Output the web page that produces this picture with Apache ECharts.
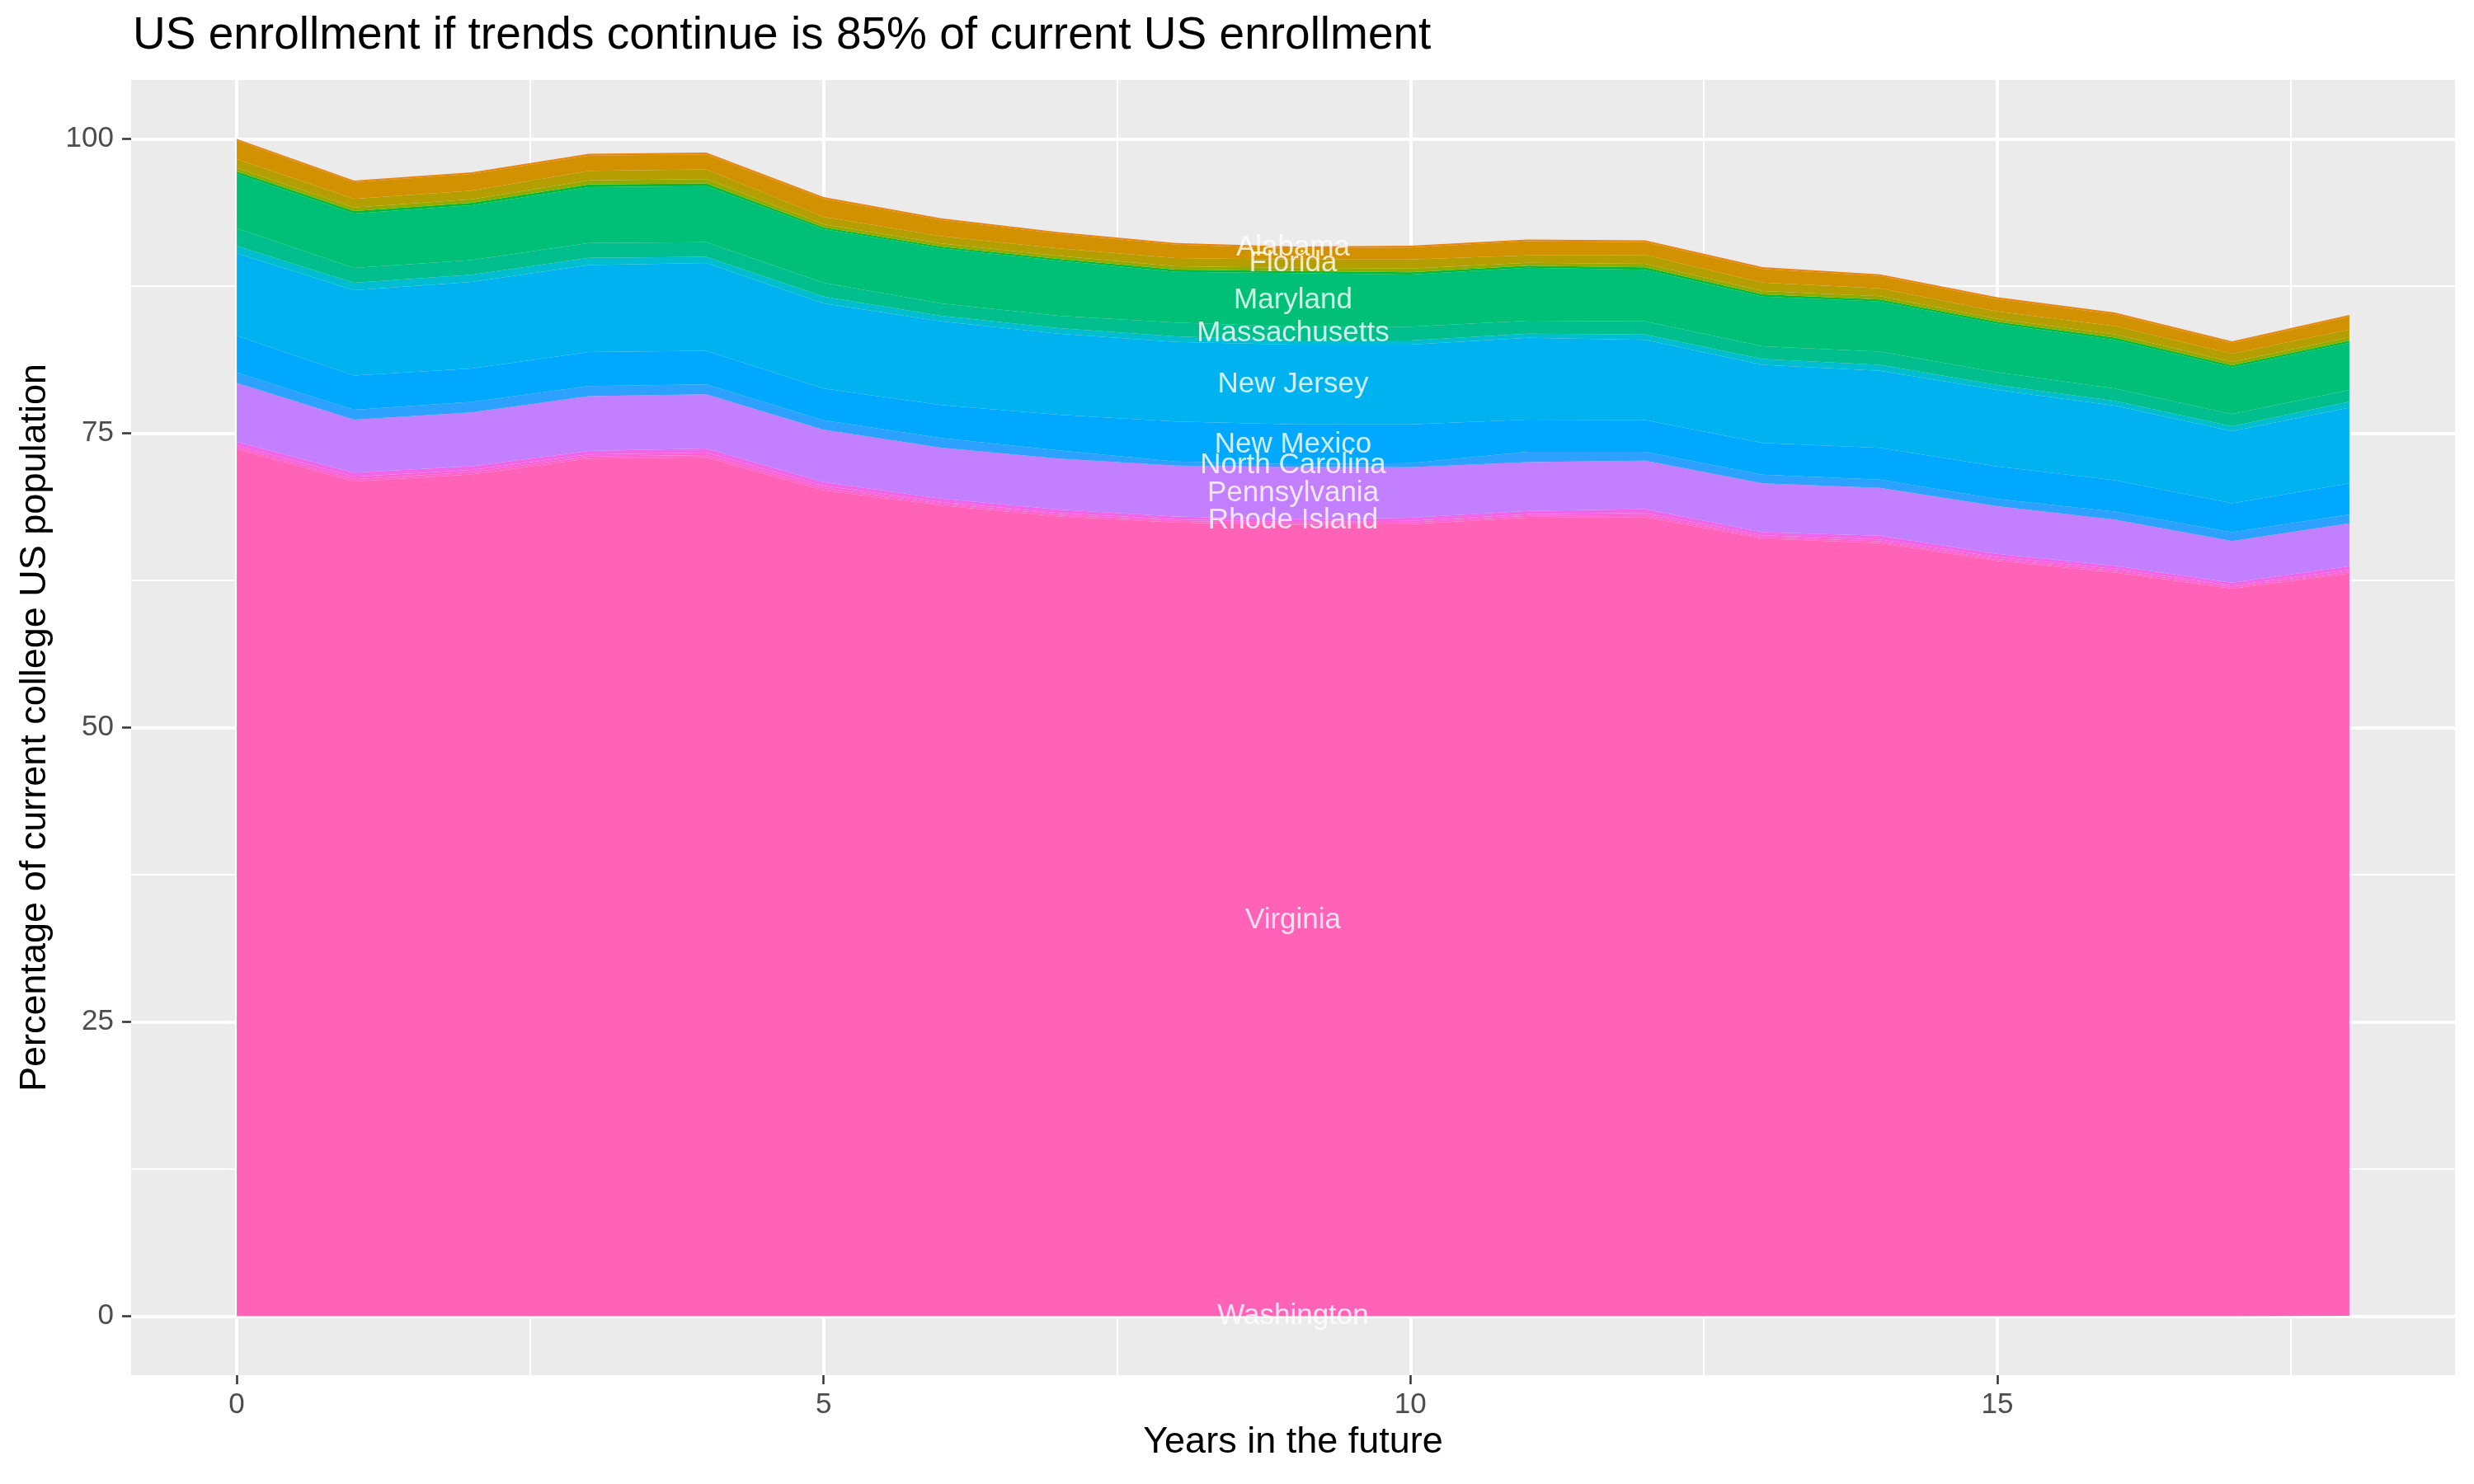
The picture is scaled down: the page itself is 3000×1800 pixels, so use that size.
<!DOCTYPE html>
<html>
<head>
<meta charset="utf-8">
<title>US enrollment if trends continue</title>
<script src="https://cdn.jsdelivr.net/npm/echarts@6/dist/echarts.min.js"></script>
<style>
html, body { margin: 0; padding: 0; background: #fff; }
#chart { width: 3000px; height: 1800px; }
</style>
</head>
<body>
<div id="chart"></div>
<script>
var FONT = "'Liberation Sans', Arial, Helvetica, sans-serif";

var years = [0, 1, 2, 3, 4, 5, 6, 7, 8, 9, 10, 11, 12, 13, 14, 15, 16, 17, 18];

// stacked from the bottom up
var states = ['Washington', 'Virginia', 'Texas', 'Tennessee', 'Rhode Island', 'Pennsylvania',
  'North Carolina', 'New Mexico', 'New Jersey', 'Michigan', 'Massachusetts', 'Maryland',
  'Illinois', 'Georgia', 'Florida', 'California', 'Alabama'];

var washington    = [0.05, 0.05, 0.05, 0.05, 0.05, 0.05, 0.05, 0.05, 0.05, 0.05, 0.05, 0.05, 0.05, 0.05, 0.05, 0.05, 0.05, 0.05, 0.05];
var virginia      = [73.6, 70.85, 71.45, 72.8, 72.9, 70.1, 68.82, 67.88, 67.37, 67.18, 67.23, 67.77, 67.82, 66.0, 65.62, 64.12, 63.12, 61.75, 63.05];
var texas         = [0.15, 0.2, 0.19, 0.17, 0.2, 0.19, 0.15, 0.15, 0.13, 0.12, 0.14, 0.15, 0.18, 0.14, 0.16, 0.15, 0.15, 0.13, 0.15];
var tennessee     = [0.17, 0.2, 0.19, 0.18, 0.2, 0.19, 0.15, 0.15, 0.13, 0.12, 0.14, 0.15, 0.18, 0.14, 0.16, 0.15, 0.15, 0.13, 0.15];
var rhodeIsland   = [0.3, 0.35, 0.32, 0.3, 0.35, 0.32, 0.28, 0.29, 0.25, 0.23, 0.26, 0.28, 0.32, 0.27, 0.31, 0.28, 0.28, 0.24, 0.3];
var pennsylvania  = [5.0, 4.5, 4.57, 4.65, 4.6, 4.44, 4.32, 4.32, 4.32, 4.43, 4.28, 4.15, 4.12, 4.15, 4.05, 4.05, 3.92, 3.55, 3.65];
var northCarolina = [0.88, 0.85, 0.88, 0.85, 0.85, 0.81, 0.82, 0.7, 0.35, 0.24, 0.35, 0.87, 0.75, 0.72, 0.7, 0.62, 0.68, 0.75, 0.75];
var newMexico     = [3.13, 2.9, 2.85, 2.9, 2.85, 2.69, 2.8, 3.03, 3.39, 3.38, 3.3, 2.73, 2.7, 2.7, 2.7, 2.75, 2.65, 2.45, 2.65];
var newJersey     = [7.0, 7.25, 7.35, 7.38, 7.45, 7.23, 7.11, 6.88, 6.76, 6.77, 6.77, 6.95, 6.81, 6.63, 6.55, 6.51, 6.35, 6.12, 6.42];
var michigan      = [0.62, 0.63, 0.6, 0.62, 0.53, 0.58, 0.47, 0.47, 0.47, 0.35, 0.35, 0.36, 0.45, 0.5, 0.5, 0.42, 0.4, 0.43, 0.51];
var massachusetts = [1.5, 1.25, 1.25, 1.25, 1.25, 1.17, 1.05, 1.05, 1.17, 1.17, 1.17, 1.09, 1.12, 1.08, 1.13, 1.08, 1.05, 1.03, 1.0];
var maryland      = [4.63, 4.63, 4.66, 4.75, 4.75, 4.55, 4.67, 4.67, 4.32, 4.55, 4.43, 4.51, 4.38, 4.22, 4.25, 4.12, 4.13, 3.97, 4.0];
var illinois      = [0.2, 0.2, 0.2, 0.23, 0.24, 0.17, 0.17, 0.17, 0.18, 0.19, 0.2, 0.17, 0.2, 0.19, 0.18, 0.17, 0.19, 0.18, 0.18];
var georgia       = [0.3, 0.3, 0.3, 0.35, 0.36, 0.25, 0.25, 0.25, 0.28, 0.28, 0.32, 0.25, 0.3, 0.29, 0.27, 0.25, 0.28, 0.28, 0.27];
var florida       = [0.75, 0.74, 0.74, 0.8, 0.82, 0.63, 0.63, 0.63, 0.7, 0.7, 0.77, 0.63, 0.75, 0.72, 0.67, 0.63, 0.7, 0.69, 0.67];
var california    = [1.57, 1.41, 1.41, 1.3, 1.28, 1.53, 1.37, 1.25, 1.14, 0.94, 1.01, 1.2, 1.1, 1.15, 1.05, 1.05, 1.0, 0.9, 1.1];
var alabama       = [0.15, 0.15, 0.15, 0.15, 0.15, 0.15, 0.15, 0.15, 0.15, 0.15, 0.15, 0.15, 0.15, 0.15, 0.15, 0.15, 0.15, 0.15, 0.15];

var values = [washington, virginia, texas, tennessee, rhodeIsland, pennsylvania,
  northCarolina, newMexico, newJersey, michigan, massachusetts, maryland,
  illinois, georgia, florida, california, alabama];

var colors = ['#FF74A8', '#FF62B6', '#FF63CB', '#FB61D7', '#F066EA', '#C27FFF',
  '#2CA1FF', '#00A8FF', '#00B3F0', '#00BDD0', '#00BE8E', '#00C078',
  '#00BA38', '#93AA00', '#B59F00', '#D29200', '#E8850F'];

var labelled = ['Alabama', 'Florida', 'Maryland', 'Massachusetts', 'New Jersey', 'New Mexico',
  'North Carolina', 'Pennsylvania', 'Rhode Island', 'Virginia', 'Washington'];
var labelYear = 9;

var xTicks = [0, 5, 10, 15];
var xMinor = [2.5, 7.5, 12.5, 17.5];
var yTicks = [0, 25, 50, 75, 100];
var yMinor = [12.5, 37.5, 62.5, 87.5];

// label sits in the middle of each state's band at labelYear
var labelData = [];
var base = 0;
var li = years.indexOf(labelYear);
states.forEach(function (s, k) {
  var v = values[k][li];
  if (labelled.indexOf(s) >= 0) {
    labelData.push({ name: s, value: [labelYear, base + v / 2] });
  }
  base += v;
});

// value first so that it is the dimension that gets stacked (by index)
var series = states.map(function (s, k) {
  return {
    name: s,
    type: 'line',
    stack: 'total',
    symbol: 'none',
    silent: true,
    encode: { x: 1, y: 0 },
    lineStyle: { width: 0, opacity: 0 },
    areaStyle: { color: colors[k], opacity: 1 },
    itemStyle: { color: colors[k] },
    data: years.map(function (y, i) { return [values[k][i], y]; })
  };
});

series.push({
  type: 'scatter',
  data: labelData,
  symbolSize: 1,
  silent: true,
  z: 10,
  itemStyle: { color: 'rgba(0,0,0,0)' },
  label: {
    show: true,
    position: 'inside',
    formatter: '{b}',
    color: '#fff',
    fontSize: 35,
    fontFamily: FONT
  }
});

var chart = echarts.init(document.getElementById('chart'));
chart.setOption({
  animation: false,
  backgroundColor: '#fff',
  title: {
    text: 'US enrollment if trends continue is 85% of current US enrollment',
    left: 161,
    top: 16,
    padding: 0,
    textStyle: { fontSize: 55, fontWeight: 'normal', color: '#000', fontFamily: FONT, lineHeight: 55 }
  },
  grid: {
    left: 159, right: 23, top: 97, bottom: 132,
    show: true, backgroundColor: '#EBEBEB', borderWidth: 0,
    containLabel: false, outerBoundsMode: 'none'
  },
  xAxis: [{
    type: 'value', min: -0.9, max: 18.9,
    name: 'Years in the future', nameLocation: 'middle', nameGap: 59,
    nameTextStyle: { fontSize: 45, color: '#000', fontFamily: FONT },
    axisLine: { show: false, onZero: false },
    axisTick: { show: true, length: 11, customValues: xTicks, lineStyle: { color: '#333', width: 2.5 } },
    axisLabel: { customValues: xTicks, margin: 19, fontSize: 35, color: '#4D4D4D', fontFamily: FONT },
    splitLine: { show: true, lineStyle: { color: '#fff', width: 4 } }
  }, {
    type: 'value', min: -0.9, max: 18.9, position: 'top',
    axisLine: { show: false, onZero: false },
    axisTick: { show: false, customValues: xMinor },
    axisLabel: { show: false, customValues: xMinor },
    splitLine: { show: true, lineStyle: { color: '#fff', width: 2 } }
  }],
  yAxis: [{
    type: 'value', min: -5, max: 105,
    name: 'Percentage of current college US population', nameLocation: 'middle', nameGap: 94,
    nameTextStyle: { fontSize: 45, color: '#000', fontFamily: FONT },
    axisLine: { show: false, onZero: false },
    axisTick: { show: true, length: 11, customValues: yTicks, lineStyle: { color: '#333', width: 2.5 } },
    axisLabel: { customValues: yTicks, margin: 21, fontSize: 35, color: '#4D4D4D', fontFamily: FONT },
    splitLine: { show: true, lineStyle: { color: '#fff', width: 4 } }
  }, {
    type: 'value', min: -5, max: 105, position: 'right',
    axisLine: { show: false, onZero: false },
    axisTick: { show: false, customValues: yMinor },
    axisLabel: { show: false, customValues: yMinor },
    splitLine: { show: true, lineStyle: { color: '#fff', width: 2 } }
  }],
  series: series
});
window.addEventListener('resize', function () {
  chart.resize();
});
</script>
</body>
</html>
